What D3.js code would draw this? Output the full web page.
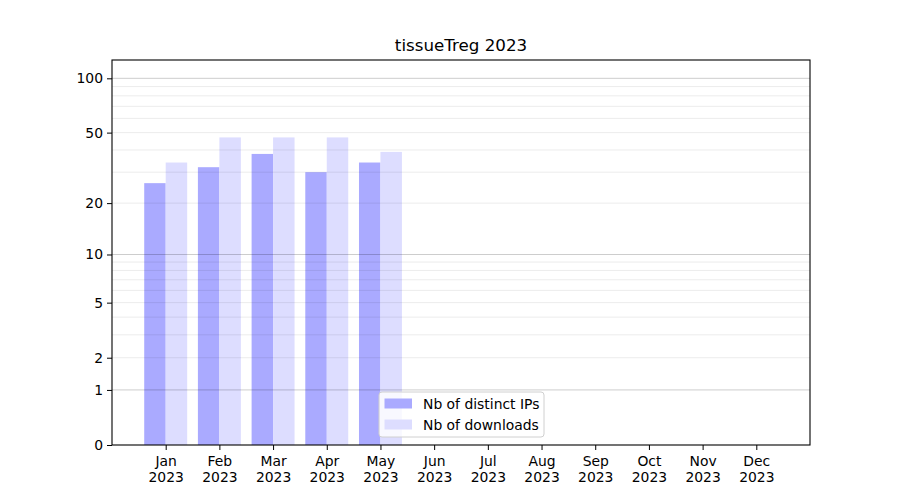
<!DOCTYPE html>
<html>
<head>
<meta charset="utf-8">
<script src="https://cdn.jsdelivr.net/npm/d3@7"></script>
<style>
  html, body { margin: 0; padding: 0; background: #fff; }
  svg text { font-family: "DejaVu Sans", sans-serif; }
</style>
</head>
<body>
<svg id="chart" width="900" height="500"></svg>
<script>
const months = ["Jan","Feb","Mar","Apr","May","Jun","Jul","Aug","Sep","Oct","Nov","Dec"];
const yearLabel = "2023";
const distinctIPs = [26, 32, 38, 30, 34, null, null, null, null, null, null, null];
const downloads   = [34, 47, 47, 47, 39, null, null, null, null, null, null, null];
const yTickValues = [0, 1, 2, 5, 10, 20, 50, 100];
const yMajorGrid  = [1, 10, 100];
const yMinorGrid  = [2, 3, 4, 5, 6, 7, 8, 9, 20, 30, 40, 50, 60, 70, 80, 90];
const seriesNames = ["Nb of distinct IPs", "Nb of downloads"];
const seriesColors = ["#aaaaff", "#ddddff"];
const title = "tissueTreg 2023";

const svg = d3.select("#chart");
const L = 112, R = 810, T = 60, B = 445;

const x = d3.scaleLinear().domain([-1, 12]).range([L, R]);
const y = d3.scaleSymlog().constant(1).domain([0, 126.2]).range([B, T]);
const barW = 0.4;

// bars
const g = svg.append("g");
g.selectAll("rect.ip").data(distinctIPs.map((v, i) => ({v, i})).filter(d => d.v != null))
  .enter().append("rect")
  .attr("x", d => x(d.i - barW)).attr("width", d => x(d.i) - x(d.i - barW))
  .attr("y", d => y(d.v)).attr("height", d => y(0) - y(d.v))
  .attr("fill", seriesColors[0]);
g.selectAll("rect.dl").data(downloads.map((v, i) => ({v, i})).filter(d => d.v != null))
  .enter().append("rect")
  .attr("x", d => x(d.i)).attr("width", d => x(d.i + barW) - x(d.i))
  .attr("y", d => y(d.v)).attr("height", d => y(0) - y(d.v))
  .attr("fill", seriesColors[1]);

// grid
svg.append("g").selectAll("line").data(yMinorGrid).enter().append("line")
  .attr("x1", L).attr("x2", R).attr("y1", d => y(d)).attr("y2", d => y(d))
  .attr("stroke", "rgba(0,0,0,0.08)").attr("stroke-width", 1);
svg.append("g").selectAll("line").data(yMajorGrid).enter().append("line")
  .attr("x1", L).attr("x2", R).attr("y1", d => y(d)).attr("y2", d => y(d))
  .attr("stroke", "rgba(0,0,0,0.2)").attr("stroke-width", 1);

// axes
const yAxis = d3.axisLeft(y).tickValues(yTickValues).tickFormat(d3.format("d")).tickSize(5).tickPadding(4);
const yg = svg.append("g").attr("transform", `translate(${L},0)`).call(yAxis);
yg.select(".domain").remove();
yg.selectAll("text").attr("font-size", "13.9px").attr("fill", "#000").attr("font-family", "DejaVu Sans");
yg.selectAll("line").attr("stroke", "#000");

const xAxis = d3.axisBottom(x).tickValues(d3.range(12)).tickFormat(() => "").tickSize(5);
const xg = svg.append("g").attr("transform", `translate(0,${B})`).call(xAxis);
xg.select(".domain").remove();
xg.selectAll("line").attr("stroke", "#000");
xg.selectAll(".tick").each(function(d) {
  const t = d3.select(this).append("text").attr("fill", "#000").attr("font-size", "13.9px")
    .attr("text-anchor", "middle").attr("font-family", "DejaVu Sans");
  t.append("tspan").attr("x", 0).attr("y", 21).text(months[d]);
  t.append("tspan").attr("x", 0).attr("y", 37).text(yearLabel);
});

// frame
svg.append("rect").attr("x", L).attr("y", T).attr("width", R - L).attr("height", B - T)
  .attr("fill", "none").attr("stroke", "#000").attr("stroke-width", 1.1);

// title
svg.append("text").attr("x", (L + R) / 2).attr("y", 51).attr("text-anchor", "middle")
  .attr("font-size", "16.7px").attr("fill", "#000").text(title);

// legend
const lg = svg.append("g").attr("transform", "translate(379,392)");
lg.append("rect").attr("width", 165).attr("height", 45).attr("rx", 3)
  .attr("fill", "rgba(255,255,255,0.8)").attr("stroke", "#d0d0d0").attr("stroke-width", 1);
seriesNames.forEach((name, i) => {
  lg.append("rect").attr("x", 5.5).attr("y", 6.5 + i * 21).attr("width", 27.5).attr("height", 10)
    .attr("fill", seriesColors[i]);
  lg.append("text").attr("x", 44).attr("y", 16.5 + i * 21).attr("font-size", "13.9px")
    .attr("fill", "#000").text(name);
});
</script>
</body>
</html>
